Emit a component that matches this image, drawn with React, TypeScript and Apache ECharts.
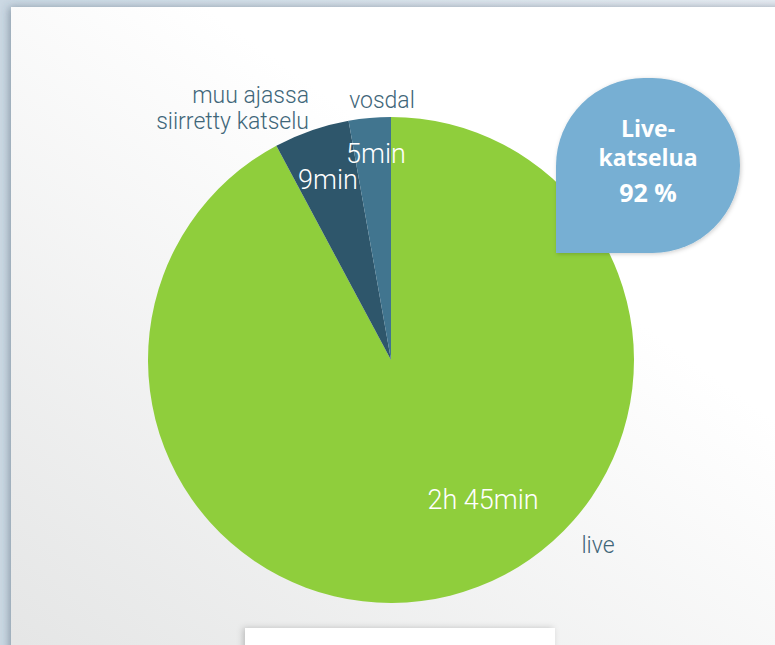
import React, { useEffect, useRef } from "react";
import * as echarts from "echarts";

const categories = ["live", "muu ajassa\nsiirretty katselu", "vosdal"];
const minutes = [165, 9, 5];
const durationLabels = ["2h 45min", "9min", "5min"];
const calloutTitle = "Live-\nkatselua";

const sliceColors = ["#8fce3c", "#2e566b", "#41758f"];
const labelColor = "#3f6679";

// label anchor positions (page px)
const insidePos = [
  { x: 483, y: 500 },
  { x: 328, y: 180 },
  { x: 376, y: 154 },
];
const outsidePos = [
  { x: 598, y: 545, align: "center" },
  { x: 309, y: 108, align: "right" },
  { x: 382, y: 100, align: "center" },
];

export default function App() {
  const ref = useRef<HTMLDivElement>(null);
  useEffect(() => {
    if (!ref.current) return;
    const chart = echarts.init(ref.current, null, { renderer: "svg" });
    const total = minutes.reduce((a, b) => a + b, 0);
    const pct = Math.round((minutes[0] / total) * 100);
    const data = categories.map((name, i) => ({
      name,
      value: minutes[i],
      itemStyle: { color: sliceColors[i] },
    }));
    const ghost = categories.map((name, i) => ({
      name,
      value: minutes[i],
      itemStyle: { color: "rgba(0,0,0,0)" },
    }));
    chart.setOption({
      animation: false,
      backgroundColor: "#ffffff",
      graphic: [
        {
          type: "rect",
          z: -20,
          silent: true,
          shape: { x: 0, y: 0, width: 775, height: 645 },
          style: {
            fill: new echarts.graphic.LinearGradient(0, 0, 1, 0, [
              { offset: 0, color: "#cbd8e3" },
              { offset: 1, color: "#e8ecf3" },
            ]),
          },
        },
        {
          type: "rect",
          z: -19,
          silent: true,
          shape: { x: 11, y: 7, width: 780, height: 660 },
          style: {
            fill: new echarts.graphic.LinearGradient(0, 1, 0.6, 0.3, [
              { offset: 0, color: "#e4e5e5" },
              { offset: 1, color: "#ffffff" },
            ]),
            shadowBlur: 8,
            shadowOffsetX: -2,
            shadowColor: "rgba(60,80,100,0.45)",
          },
        },
        {
          type: "rect",
          z: -18,
          silent: true,
          shape: { x: 245, y: 628, width: 310, height: 40 },
          style: {
            fill: "#ffffff",
            shadowBlur: 6,
            shadowOffsetX: -2,
            shadowColor: "rgba(0,0,0,0.2)",
          },
        },
        {
          type: "rect",
          z: 20,
          silent: true,
          shape: { x: 556, y: 78, width: 184, height: 175, r: [88, 88, 88, 0] },
          style: {
            fill: "#77afd3",
            shadowBlur: 4,
            shadowOffsetX: 1,
            shadowOffsetY: 1,
            shadowColor: "rgba(0,0,0,0.2)",
          },
        },
        {
          type: "text",
          z: 21,
          silent: true,
          x: 648,
          y: 142,
          style: {
            text: calloutTitle,
            fill: "#ffffff",
            font: "bold 23px 'Open Sans', sans-serif",
            lineHeight: 29,
            align: "center",
            verticalAlign: "middle",
          },
        },
        {
          type: "text",
          z: 21,
          silent: true,
          x: 648,
          y: 192,
          style: {
            text: pct + " %",
            fill: "#ffffff",
            font: "bold 25px 'Open Sans', sans-serif",
            align: "center",
            verticalAlign: "middle",
          },
        },
      ],
      series: [
        {
          type: "pie",
          center: [391, 360],
          radius: 243,
          startAngle: 90,
          clockwise: true,
          avoidLabelOverlap: false,
          data,
          itemStyle: { borderWidth: 0 },
          label: {
            show: true,
            position: "inside",
            formatter: (p: any) => durationLabels[p.dataIndex],
            color: "#ffffff",
            fontFamily: "Roboto, 'Liberation Sans', sans-serif",
            fontWeight: 300,
            fontSize: 27,
          },
          labelLine: { show: false },
          labelLayout: (p: any) => ({
            x: insidePos[p.dataIndex].x,
            y: insidePos[p.dataIndex].y,
            align: "center",
            verticalAlign: "middle",
          }),
          emphasis: { disabled: true },
        },
        {
          type: "pie",
          center: [391, 360],
          radius: 243,
          startAngle: 90,
          clockwise: true,
          avoidLabelOverlap: false,
          silent: true,
          data: ghost,
          label: {
            show: true,
            position: "outside",
            formatter: (p: any) => p.name,
            color: labelColor,
            fontFamily: "Roboto, 'Liberation Sans', sans-serif",
            fontWeight: 300,
            fontSize: 23,
            lineHeight: 26,
          },
          labelLine: { show: false },
          labelLayout: (p: any) => ({
            x: outsidePos[p.dataIndex].x,
            y: outsidePos[p.dataIndex].y,
            align: outsidePos[p.dataIndex].align,
            verticalAlign: "middle",
          }),
          emphasis: { disabled: true },
        },
      ],
    });
    return () => chart.dispose();
  }, []);
  return (
    <div
      ref={ref}
      style={{ position: "absolute", left: 0, top: 0, width: 775, height: 645 }}
    />
  );
}
